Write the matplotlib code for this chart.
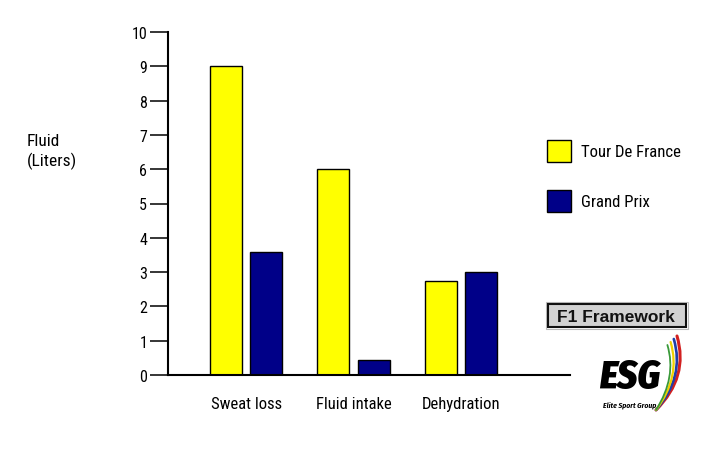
import matplotlib
matplotlib.use("Agg")
import matplotlib.pyplot as plt
import numpy as np
from matplotlib.patches import Rectangle, PathPatch
from matplotlib.path import Path

categories = ["Sweat loss", "Fluid intake", "Dehydration"]
tour_de_france = [9.0, 6.0, 2.75]
grand_prix = [3.6, 0.45, 3.0]
series_names = ["Tour De France", "Grand Prix"]
y_ticks = [0, 1, 2, 3, 4, 5, 6, 7, 8, 9, 10]

COND = ["Roboto Condensed", "Liberation Sans", "DejaVu Sans"]
plt.rcParams['font.family'] = COND

W, H = 709, 456
fig = plt.figure(figsize=(W / 100, H / 100), dpi=100)
fig.patch.set_facecolor("white")


def fx(px):
    return px / W


def fy(py):
    return 1 - py / H


ax = fig.add_axes([fx(168), fy(376), (570 - 168) / W, (376 - 33) / H])

x = np.arange(len(categories))
bw = 0.298
off = 0.189
b1 = ax.bar(x - off, tour_de_france, bw, color="#FFFF00", edgecolor="black", linewidth=1.0,
            label=series_names[0])
b2 = ax.bar(x + off, grand_prix, bw, color="#000088", edgecolor="black", linewidth=1.0,
            label=series_names[1])

ax.set_xlim(-0.727, 3.014)
ax.set_ylim(0, 10)
ax.set_yticks(y_ticks)
ax.set_yticklabels([str(t) for t in y_ticks], fontsize=11.5)
ax.set_xticks(x)
ax.set_xticklabels(categories, fontsize=12)
ax.tick_params(axis="y", direction="out", length=13, width=1.1, pad=2, colors="black")
ax.tick_params(axis="x", length=0, pad=15)
for s in ["top", "right"]:
    ax.spines[s].set_visible(False)
for s in ["left", "bottom"]:
    ax.spines[s].set_linewidth(1.5)
    ax.spines[s].set_color("black")
ax.set_facecolor("none")

# Y label
fig.text(fx(27), fy(146.5), "Fluid", fontsize=12.5, ha="left", va="baseline")
fig.text(fx(27), fy(166.5), "(Liters)", fontsize=12.5, ha="left", va="baseline")

# Legend
fs = 12.1
fpx = fs * 100 / 72
hh = (22 / fpx - 0.245) / 0.65
fig.legend(handles=[b1, b2], labels=series_names, loc="upper left",
           bbox_to_anchor=(fx(547.3), fy(140.5)), bbox_transform=fig.transFigure,
           frameon=False, borderpad=0, borderaxespad=0,
           handlelength=23.4 / fpx, handleheight=hh,
           handletextpad=10 / fpx, labelspacing=28 / fpx,
           prop={"family": COND, "size": fs})

# F1 Framework badge
fig.add_artist(Rectangle((fx(546), fy(330)), 142 / W, 27 / H, transform=fig.transFigure,
                         facecolor="white", edgecolor="#bbbbbb", linewidth=0.8))
fig.add_artist(Rectangle((fx(548), fy(328)), 138 / W, 23 / H, transform=fig.transFigure,
                         facecolor="#d2d2d2", edgecolor="#111111", linewidth=1.5))
fig.text(fx(616), fy(317.5), "F1 Framework", fontsize=12.5, fontweight="bold",
         family=["Liberation Sans", "DejaVu Sans"], ha="center", va="center", color="#111111")

# ESG logo
stripe_colors = ["#d22020", "#1f3fa8", "#f0d000", "#3a9a3a"]
for k, c in enumerate(stripe_colors):
    p0 = (fx(677 - 3.2 * k), fy(337 + 3 * k))
    p1 = (fx(689 - 4 * k), fy(378))
    p2 = (fx(656), fy(411))
    path = Path([p0, p1, p2], [Path.MOVETO, Path.CURVE3, Path.CURVE3])
    fig.add_artist(PathPatch(path, transform=fig.transFigure, facecolor="none",
                             edgecolor=c, linewidth=2.2 - 0.3 * k, capstyle="round"))
fig.text(fx(630), fy(389.5), "ESG", fontsize=28, fontweight=900, fontstyle="italic",
         family=["Fira Sans Condensed", "Liberation Sans", "DejaVu Sans"],
         ha="center", va="baseline", color="black")
fig.text(fx(630), fy(407.5), "Elite Sport Group", fontsize=5.5, fontweight="bold", fontstyle="italic",
         family=["Fira Sans Condensed", "Liberation Sans", "DejaVu Sans"],
         ha="center", va="baseline", color="black")

fig.savefig("out.png", dpi=100)
